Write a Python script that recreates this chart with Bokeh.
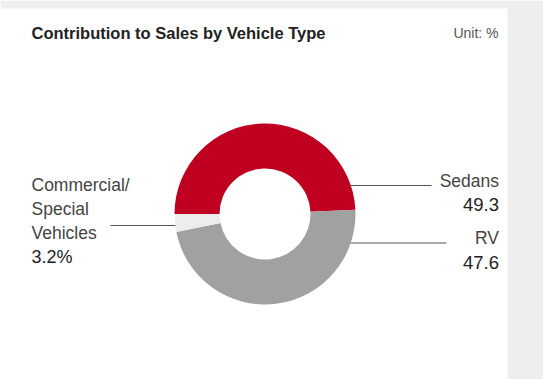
import numpy as np
from bokeh.plotting import figure
from bokeh.models import Range1d, ColumnDataSource
from bokeh.core.properties import value
from bokeh.embed import file_html
from bokeh.resources import INLINE

# ---- data ----
categories = ["Sedans", "RV", "Commercial/Special Vehicles"]
shares = [49.3, 47.6, 3.2]
colors = ["#c00020", "#a0a1a0", "#ededed"]
value_labels = ["49.3", "47.6", "3.2%"]
title_text = "Contribution to Sales by Vehicle Type"
unit_text = "Unit: %"

W, H = 543, 379
p = figure(width=W, height=H, output_backend="svg", toolbar_location=None,
           x_range=Range1d(0, W), y_range=Range1d(0, H),
           min_border=0, outline_line_color=None)
p.axis.visible = False
p.grid.visible = False
p.background_fill_color = "white"
p.border_fill_color = "white"

def Y(ref_y):
    return H - ref_y

# background frame strips
p.quad(left=[0, 507], right=[W, W], bottom=[Y(8), 0], top=[H, H],
       fill_color="#eeeeee", line_color=None)

# donut
vals = np.array(shares, dtype=float)
frac = vals / vals.sum()
cum = np.concatenate([[0], np.cumsum(frac)])
start = np.pi - 2 * np.pi * cum[:-1]
end = np.pi - 2 * np.pi * cum[1:]
src = ColumnDataSource(dict(start=start, end=end, color=colors))
cx, cy = 264.5, Y(213.5)
p.annular_wedge(x=cx, y=cy, inner_radius=45.5, outer_radius=90.5,
                start_angle="start", end_angle="end", direction="clock",
                fill_color="color", line_color=None, source=src)

# leader lines
p.segment(x0=[350, 350, 110], y0=[Y(185), Y(242.5), Y(225)],
          x1=[431, 446, 175], y1=[Y(185), Y(242.5), Y(225)],
          line_color="#555555", line_width=1.1)

font = value("Liberation Sans")
# title
p.text(x=[31], y=[Y(32)], text=[title_text], text_font=font,
       text_font_size="16.5px", text_font_style="bold", text_color="#222222",
       text_baseline="alphabetic", text_align="left")
p.text(x=[498], y=[Y(32)], text=[unit_text], text_font=font,
       text_font_size="14px", text_color="#555555",
       text_baseline="alphabetic", text_align="right")

# labels
p.text(x=[31, 31, 31], y=[Y(184.3), Y(208.3), Y(232.3)],
       text=["Commercial/", "Special", "Vehicles"], text_font=font,
       text_font_size="17.5px", text_color="#444444",
       text_baseline="alphabetic", text_align="left")
p.text(x=[31], y=[Y(256.7)], text=[value_labels[2]], text_font=font,
       text_font_size="18px", text_color="#222222",
       text_baseline="alphabetic", text_align="left")
p.text(x=[498.5, 498.5], y=[Y(180.7), Y(237.3)], text=[categories[0], categories[1]],
       text_font=font, text_font_size="17.5px", text_color="#444444",
       text_baseline="alphabetic", text_align="right")
p.text(x=[498.5, 498.5], y=[Y(204), Y(261.7)], text=[value_labels[0], value_labels[1]],
       text_font=font, text_font_size="18.5px", text_color="#222222",
       text_baseline="alphabetic", text_align="right")

open("out.html", "w").write(file_html(p, INLINE))
